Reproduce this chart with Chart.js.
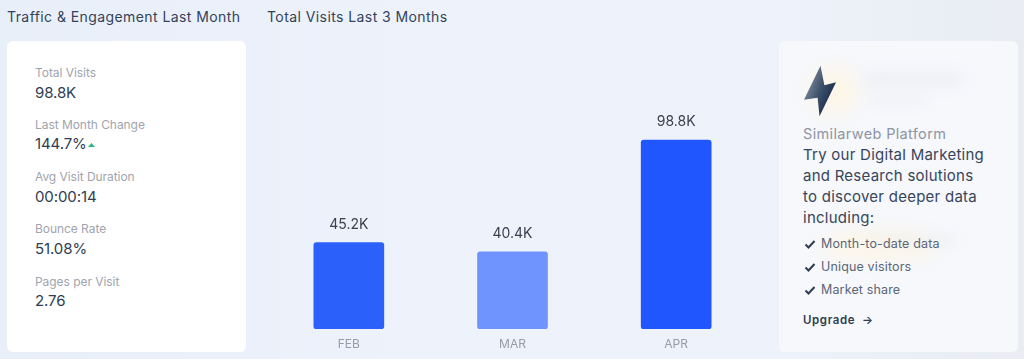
<!DOCTYPE html>
<html>
<head>
<meta charset="utf-8">
<script src="https://cdn.jsdelivr.net/npm/chart.js@4"></script>
<style>
html, body { margin: 0; padding: 0; }
body { width: 1024px; height: 359px; overflow: hidden; position: relative; font-family: Inter, "Open Sans", sans-serif;
    background: linear-gradient(90deg, #e9eff9 0%, #edf2fb 45%, #eef2fa 75%, #e9ecf3 100%); color: #2b3a50; }
.abs { position: absolute; white-space: nowrap; }
.title { font-size: 14px; line-height: 18px; top: 8px; color: #34435a; font-weight: 400; letter-spacing: .42px; }
#stats { left: 7px; top: 41px; width: 239px; height: 311px; background: #fff; border-radius: 6px; }
.lab { left: 28px; font-size: 12px; line-height: 16px; color: #9fa4ae; letter-spacing: -.05px; }
.val { left: 28px; font-size: 15px; line-height: 20px; color: #2f3d52; letter-spacing: -.1px; }
#promo { left: 779px; top: 41px; width: 239px; height: 311px; background: #f6f8fc; border-radius: 6px; overflow: hidden; }
.blur { background: #e6e8ee; filter: blur(7px); border-radius: 6px; opacity: .5; }
.glow { background: #fdf6e8; filter: blur(10px); border-radius: 50%; }
.big { left: 24px; font-size: 15px; line-height: 22px; color: #37455a; font-weight: 400; letter-spacing: .25px; }
.li { left: 42px; font-size: 12.5px; line-height: 16px; color: #5b6678; letter-spacing: .15px; }
.chk { left: 25px; width: 12px; height: 12px; }
canvas { position: absolute; left: 0; top: 0; }
</style>
</head>
<body>
<div class="abs title" style="left:7px">Traffic &amp; Engagement Last Month</div>
<div class="abs title" style="left:267px">Total Visits Last 3 Months</div>

<div class="abs" id="stats">
    <div class="abs lab" style="top:24px">Total Visits</div>
    <div class="abs val" style="top:42px">98.8K</div>
    <div class="abs lab" style="top:76px">Last Month Change</div>
    <div class="abs val" style="top:93px">144.7%</div>
    <svg class="abs" style="left:81px;top:102px" width="7" height="4"><path d="M0 4 L3.5 0 L7 4 Z" fill="#2fb380"/></svg>
    <div class="abs lab" style="top:128px">Avg Visit Duration</div>
    <div class="abs val" style="top:146px">00:00:14</div>
    <div class="abs lab" style="top:180px">Bounce Rate</div>
    <div class="abs val" style="top:198px">51.08%</div>
    <div class="abs lab" style="top:233px">Pages per Visit</div>
    <div class="abs val" style="top:250px">2.76</div>
</div>

<canvas id="visits_chart" width="1024" height="359"></canvas>

<div class="abs" id="promo">
    <div class="abs glow" style="left:30px;top:25px;width:50px;height:50px"></div>
    <div class="abs blur" style="left:84px;top:30px;width:100px;height:16px"></div>
    <div class="abs blur" style="left:90px;top:56px;width:60px;height:8px"></div>
    <div class="abs glow" style="left:40px;top:190px;width:120px;height:30px"></div>
    <div class="abs blur" style="left:90px;top:194px;width:90px;height:12px;opacity:.4"></div>
    <svg class="abs" style="left:25px;top:24px" width="33" height="52" viewBox="0 0 34 52">
        <defs><linearGradient id="bolt" x1="0" y1="0" x2="1" y2="0.6"><stop offset="0" stop-color="#9aa6b5"/><stop offset="0.6" stop-color="#3c4f69"/><stop offset="1" stop-color="#14294a"/></linearGradient></defs>
        <path d="M17 0 L0 35 L14 33 L16 52 L33 17 L21 20 Z" fill="url(#bolt)"/>
    </svg>
    <div class="abs" style="left:24px;top:83px;font-size:14.5px;line-height:20px;color:#8d95a3;letter-spacing:.35px">Similarweb Platform</div>
    <div class="abs big" style="top:103px">Try our Digital Marketing</div>
    <div class="abs big" style="top:124px">and Research solutions</div>
    <div class="abs big" style="top:145px">to discover deeper data</div>
    <div class="abs big" style="top:166px">including:</div>
    <svg class="abs chk" style="top:197px" viewBox="0 0 12 12"><path d="M1.5 6.5 L4.5 9.5 L10.5 3" fill="none" stroke="#2f3d52" stroke-width="2"/></svg>
    <div class="abs li" style="top:195px">Month-to-date data</div>
    <svg class="abs chk" style="top:220px" viewBox="0 0 12 12"><path d="M1.5 6.5 L4.5 9.5 L10.5 3" fill="none" stroke="#2f3d52" stroke-width="2"/></svg>
    <div class="abs li" style="top:218px">Unique visitors</div>
    <svg class="abs chk" style="top:243px" viewBox="0 0 12 12"><path d="M1.5 6.5 L4.5 9.5 L10.5 3" fill="none" stroke="#2f3d52" stroke-width="2"/></svg>
    <div class="abs li" style="top:241px">Market share</div>
    <div class="abs" style="left:24px;top:271px;font-size:11.5px;line-height:16px;font-weight:600;color:#2f3d52;letter-spacing:.6px">Upgrade &nbsp;→</div>
</div>

<script>
const months = ["FEB", "MAR", "APR"];
const visits = [45200, 40400, 98800];
const visitLabels = ["45.2K", "40.4K", "98.8K"];
const barColors = ["#2b60fb", "#7094fd", "#1f56fd"];

// values above the bars, placed through the chart's own elements
const valueLabels = {
    id: "valueLabels",
    afterDatasetsDraw(chart) {
        const ctx = chart.ctx;
        ctx.save();
        ctx.font = "14px Inter, sans-serif";
        ctx.fillStyle = "#3a4150";
        ctx.textAlign = "center";
        ctx.textBaseline = "bottom";
        chart.getDatasetMeta(0).data.forEach((bar, i) => {
            ctx.fillText(visitLabels[i], bar.x, bar.y - 11);
        });
        ctx.restore();
    }
};

new Chart(document.getElementById("visits_chart").getContext("2d"), {
    type: "bar",
    data: {
        labels: months,
        datasets: [{ data: visits, backgroundColor: barColors, barThickness: 70, borderRadius: 3, borderSkipped: false }]
    },
    options: {
        responsive: false,
        animation: false,
        layout: { padding: { left: 267, right: 266, top: 23, bottom: 0 } },
        plugins: { legend: { display: false }, tooltip: { enabled: false } },
        scales: {
            x: {
                afterFit(scale) { scale.height = 30; },
                grid: { display: false },
                border: { display: false },
                ticks: { color: "#969ca8", font: { family: "Inter, sans-serif", size: 12 }, padding: 0 }
            },
            y: { display: false, min: 0, max: 160000 }
        }
    },
    plugins: [valueLabels]
});
</script>
</body>
</html>
